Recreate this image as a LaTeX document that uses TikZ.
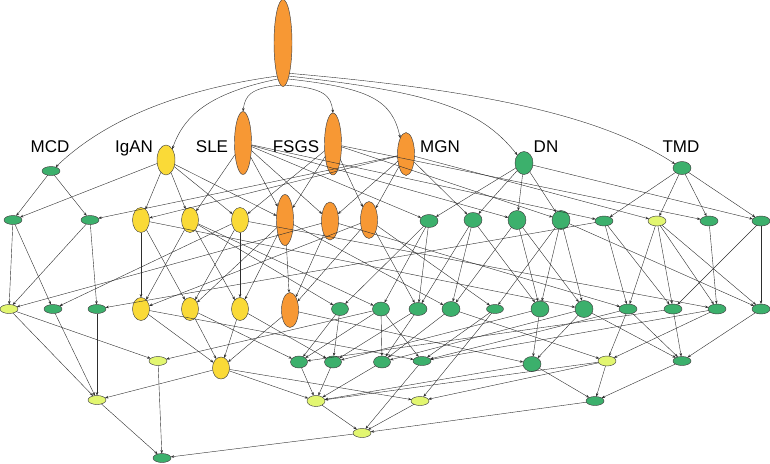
\documentclass[tikz,border=0pt]{standalone}
\usepackage{fontspec}
\setmainfont{Liberation Sans}
\usetikzlibrary{shapes.geometric,arrows.meta}
\definecolor{orangec}{RGB}{247,152,52}
\definecolor{yellowc}{RGB}{250,218,55}
\definecolor{lyellowc}{RGB}{226,246,112}
\definecolor{greenc}{RGB}{60,176,108}
\newcommand{\mknode}[6]{\node[#1,minimum width=#5pt,minimum height=#6pt] (#2) at (#3,#4) {};}
\begin{document}
\begin{tikzpicture}[x=1pt,y=-1pt,
  nd/.style={ellipse, draw=black!75, line width=0.45pt, inner sep=0pt, outer sep=0pt},
  og/.style={nd, fill=orangec},
  yl/.style={nd, fill=yellowc},
  ly/.style={nd, fill=lyellowc},
  gr/.style={nd, fill=greenc},
  e/.style={draw=black!82, line width=0.4pt, -{Stealth[length=3.4pt,width=2.6pt]}},
  lab/.style={font=\fontsize{17}{17}\selectfont, anchor=base, inner sep=0pt}]
\useasboundingbox (0,0) rectangle (770,463);
% level 0/1
\mknode{og}{root}{283}{43}{18}{87}
\mknode{gr}{mcd}{51}{171}{18}{9}
\mknode{yl}{igan}{166}{160}{18}{30}
\mknode{og}{sle}{243}{143}{17}{63}
\mknode{og}{fsgs}{333}{144}{17}{62}
\mknode{og}{mgn}{406}{154}{17}{43}
\mknode{gr}{dn}{524}{163}{18}{23}
\mknode{gr}{tmd}{682}{168}{18}{13}
\node[lab] (lmcd) at (50,152) {MCD};
\node[lab] (ligan) at (134,152) {IgAN};
\node[lab] (lsle) at (212,152) {SLE};
\node[lab] (lfsgs) at (296,152) {FSGS};
\node[lab] (lmgn) at (440,152) {MGN};
\node[lab] (ldn) at (546,152) {DN};
\node[lab] (ltmd) at (681,152) {TMD};
% level 2
\mknode{gr}{g1}{13}{220}{18}{9}
\mknode{gr}{g2}{90}{220}{18}{9}
\mknode{yl}{y1}{141}{220}{17}{25}
\mknode{yl}{y2}{190}{220}{17}{25}
\mknode{yl}{y3}{240}{220}{17}{25}
\mknode{og}{o1}{285}{220}{17}{51}
\mknode{og}{o2}{330}{221}{17}{38}
\mknode{og}{o3}{369}{220}{17}{37}
\mknode{gr}{g3}{429}{221}{18}{13}
\mknode{gr}{g4}{473}{220}{18}{15}
\mknode{gr}{g5}{517}{220}{18}{19}
\mknode{gr}{g6}{561}{220}{18}{19}
\mknode{gr}{g7}{604}{221}{18}{10}
\mknode{ly}{ly1}{657}{221}{18}{10}
\mknode{gr}{g8}{709}{221}{18}{10}
\mknode{gr}{g9}{761}{221}{18}{10}
% level 3
\mknode{ly}{ly2}{9}{309}{18}{9}
\mknode{gr}{g10}{53}{309}{18}{9}
\mknode{gr}{g11}{97}{309}{18}{9}
\mknode{yl}{y4}{141}{309}{17}{23}
\mknode{yl}{y5}{190}{309}{17}{23}
\mknode{yl}{y6}{240}{309}{17}{23}
\mknode{og}{o4}{290}{310}{17}{35}
\mknode{gr}{g12}{340}{309}{17}{13}
\mknode{gr}{g13}{381}{309}{17}{14}
\mknode{gr}{g15}{418}{309}{18}{13}
\mknode{gr}{g16}{451}{309}{18}{15}
\mknode{gr}{g17}{495}{309}{17}{9}
\mknode{gr}{g18}{540}{309}{18}{16}
\mknode{gr}{g19}{584}{309}{18}{17}
\mknode{gr}{g20}{628}{309}{18}{10}
\mknode{gr}{g21}{673}{309}{18}{10}
\mknode{gr}{g22}{717}{309}{18}{10}
\mknode{gr}{g23}{761}{309}{18}{10}
% level 4
\mknode{ly}{ly3}{158}{361}{18}{9}
\mknode{yl}{y7}{221}{368}{17}{22}
\mknode{gr}{g24}{299}{362}{17}{12}
\mknode{gr}{g25}{333}{362}{17}{12}
\mknode{gr}{g26}{382}{362}{17}{12}
\mknode{gr}{g27}{422}{361}{18}{9}
\mknode{gr}{g28}{532}{364}{18}{15}
\mknode{ly}{ly4}{607}{361}{18}{10}
\mknode{gr}{g29}{682}{361}{18}{9}
% level 5+
\mknode{ly}{ly5}{97}{400}{18}{9}
\mknode{ly}{ly6}{316}{401}{18}{11}
\mknode{ly}{ly7}{420}{401}{18}{9}
\mknode{gr}{g30}{595}{401}{18}{9}
\mknode{ly}{ly8}{362}{433}{18}{9}
\mknode{gr}{g31}{162}{458}{18}{9}
% root edges (curved)
\draw[e] (root.-100) .. controls (190,88) and (110,115) .. (mcd.40);
\draw[e] (root.-98) .. controls (215,92) and (185,112) .. (igan.60);
\draw[e] (root.-93) .. controls (250,88) and (245,96) .. (sle.north);
\draw[e] (root.-87) .. controls (325,88) and (331,96) .. (fsgs.north);
\draw[e] (root.-82) .. controls (370,88) and (392,100) .. (mgn.110);
\draw[e] (root.-80) .. controls (430,92) and (480,108) .. (dn.130);
\draw[e] (root.-78) .. controls (480,90) and (600,115) .. (tmd.150);
% level 1 -> 2
\foreach \a/\b in {mcd/g1, mcd/g2,
  igan/g1, igan/y1, igan/y2, igan/y3, igan/o1,
  sle/y2, sle/o1, sle/o2, sle/g3, sle/g5, sle/g7,
  fsgs/y3, fsgs/o1, fsgs/o3, fsgs/g6, fsgs/g8,
  mgn/g2, mgn/y1, mgn/o2, mgn/o3, mgn/g4, mgn/ly1,
  dn/g3, dn/g4, dn/g5, dn/g6, dn/g9,
  tmd/g7, tmd/ly1, tmd/g8, tmd/g9}
  \draw[e] (\a) -- (\b);
% level 2 -> 3
\foreach \a/\b in {g1/ly2, g1/g10, g2/ly2, g2/g11,
  y1/y4, y1/y5, y1/g19,
  y2/y4, y2/y6, y2/g12, y2/g13,
  y3/y5, y3/y6, y3/g10, y3/g22,
  o1/o4, o1/y5, o1/y6, o1/g16,
  o2/o4, o2/ly2, o2/g20,
  o3/o4, o3/y4, o3/g15, o3/g17,
  g3/g12, g3/g13, g3/g15,
  g4/g15, g4/g16, g4/g18,
  g5/g16, g5/g18, g5/g19,
  g6/g17, g6/g18, g6/g19, g6/g23,
  g7/g11, g7/g20, g7/g21,
  ly1/g20, ly1/g21, ly1/g22, ly1/g23,
  g8/g22, g9/g21, g9/g23}
  \draw[e] (\a) -- (\b);
% level 3 -> 4
\foreach \a/\b in {ly2/ly3, ly2/ly5, g10/ly5, g11/ly5,
  y4/y7, y4/g27, y5/y7, y5/g24, y6/y7, y6/g25,
  o4/y7, o4/g28,
  g12/g24, g12/g25,
  g13/ly3, g13/g24, g13/g26, g13/g27,
  g15/g25, g15/g26,
  g16/g26, g16/ly4,
  g17/g27, g17/ly7,
  g18/g28, g18/g25,
  g19/g26, g19/g28, g19/g29,
  g20/ly4, g20/g29, g20/g27,
  g21/g29, g21/g24,
  g22/ly4, g22/g27,
  g23/g29}
  \draw[e] (\a) -- (\b);
% lower levels
\foreach \a/\b in {y7/ly5, y7/ly6, y7/ly7,
  g24/ly6, g25/ly6, g26/ly6, g27/ly8,
  ly4/ly6, ly4/ly7, ly4/g30,
  g28/ly6, g28/g30, g29/g30,
  ly3/g31, ly5/g31,
  ly6/ly8, ly7/ly8, g30/ly8, ly8/g31}
  \draw[e] (\a) -- (\b);
\end{tikzpicture}
\end{document}
